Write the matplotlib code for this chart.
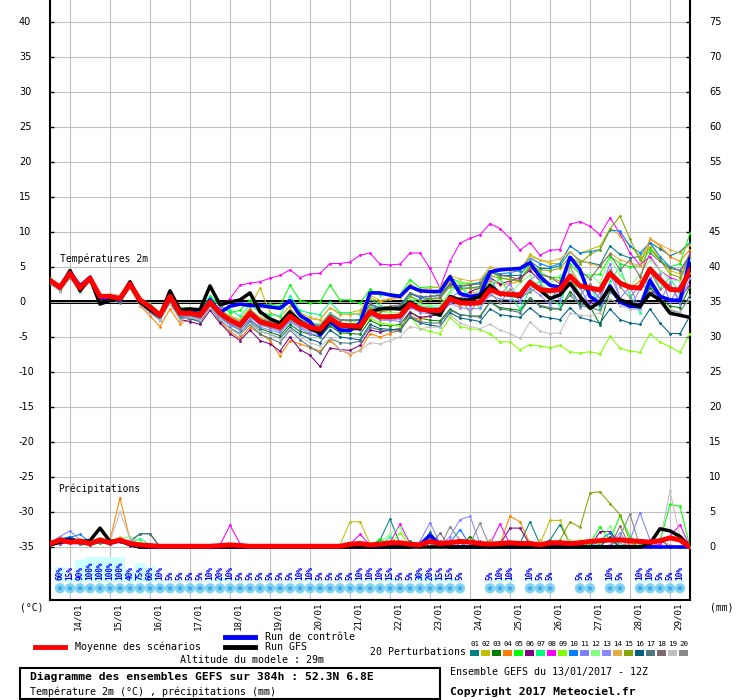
import matplotlib
matplotlib.use("Agg")
import matplotlib.pyplot as plt
import numpy as np
from matplotlib.lines import Line2D
from matplotlib.patches import Rectangle
from matplotlib.transforms import blended_transform_factory

# GEFS 13/01/2017 12Z, one point every 6h (65 steps, 384h)
steps = np.arange(65)
dates = ["14/01", "15/01", "16/01", "17/01", "18/01", "19/01", "20/01", "21/01",
         "22/01", "23/01", "24/01", "25/01", "26/01", "27/01", "28/01", "29/01"]

member_colors = ['#008080', '#c0c000', '#008000', '#ff8000', '#00ff00', '#800080', '#00ff80',
                 '#ff00ff', '#80ff00', '#0080ff', '#8080ff', '#80ff80', '#8888ff', '#e0b040',
                 '#80a800', '#006080', '#507880', '#806870', '#c0c0c0', '#888888']

# ---- temperature 2m (C) ----
t_mean = [3.1, 2.1, 4.1, 2.0, 3.4, 0.8, 0.8, 0.5, 2.6, 0.3,
          -0.7, -1.9, 0.8, -1.6, -1.6, -1.9, 0.0, -1.6, -2.6, -3.3,
          -1.6, -2.8, -3.2, -3.6, -2.0, -3.0, -3.6, -3.9, -2.3, -3.3,
          -3.4, -3.5, -1.4, -2.1, -2.1, -2.0, -0.3, -1.0, -1.2, -1.2,
          0.5, -0.1, -0.2, -0.1, 1.8, 1.2, 1.1, 1.0, 2.8, 1.8,
          1.6, 1.8, 3.7, 2.3, 2.0, 1.7, 4.1, 2.7, 2.1, 2.0,
          4.7, 3.2, 1.8, 1.7, 4.5]
t_ctrl = [3.0, 2.2, 4.3, 2.3, 3.5, 0.5, 0.6, 0.3, 2.8, 0.0,
          -1.0, -2.0, 0.8, -1.4, -1.3, -1.8, 0.3, -1.5, -0.6, -0.3,
          -0.5, -0.5, -0.7, -0.9, 0.2, -1.9, -2.8, -4.7, -2.8, -4.0,
          -4.1, -3.0, 1.3, 1.3, 1.0, 0.8, 2.2, 1.6, 1.5, 1.5,
          3.6, 1.2, 0.8, 1.0, 4.3, 4.6, 4.7, 4.8, 5.6, 3.6,
          2.4, 2.1, 6.4, 4.6, 0.8, -0.2, 2.3, 0.0, -0.6, -0.7,
          3.1, 0.8, 0.3, 0.2, 6.2]
t_gfs = [3.1, 2.0, 4.5, 1.6, 3.4, -0.3, 0.2, 0.5, 2.9, 0.0,
         -1.1, -1.9, 1.6, -1.1, -1.0, -1.1, 2.3, -0.4, 0.0, 0.3,
         1.3, -1.4, -2.4, -3.0, -1.4, -2.8, -3.8, -4.4, -2.6, -3.3,
         -3.6, -3.8, -1.4, -1.0, -0.9, -1.0, 0.0, -0.9, -1.4, -1.9,
         0.8, 0.3, 0.3, 0.8, 2.4, 1.2, 1.0, 0.8, 2.9, 1.7,
         0.5, 1.0, 2.7, 0.8, -0.9, 0.0, 2.1, 0.3, -0.2, -0.6,
         1.2, 0.3, -1.6, -1.9, -2.2]

t_p01 = [2.8, 1.8, 3.7, 1.7, 3.1, 0.6, 0.5, 0.2, 2.4, 0.0, -0.4, -1.6, 1.2, -1.3, -1.2, -1.5, 0.4, -1.1, -2.1, -2.8,
         -1.1, -2.3, -2.8, -3.0, -1.4, -2.5, -3.0, -3.2, -1.6, -2.5, -2.6, -2.5, -0.3, -0.9, -0.8, -0.6, 1.2, 0.6, 0.5, 0.6,
         2.5, 2.0, 2.0, 2.2, 4.3, 3.8, 3.8, 3.8, 5.8, 4.8, 4.8, 5.2, 7.2, 5.8, 5.6, 5.3, 8.0, 6.8, 6.3, 6.5,
         8.5, 7.6, 6.6, 7.2, 8.5]
t_p02 = [3.3, 2.4, 4.3, 2.3, 3.6, 1.0, 1.1, 0.8, 2.9, 0.5, -0.5, -1.7, 1.0, -1.5, -1.3, -1.8, 0.5, -1.2, -2.0, -2.5,
         -0.8, 2.0, -1.5, -2.2, -0.5, -1.5, -2.2, -2.5, -0.8, -1.6, -1.5, -1.2, 1.0, 0.2, 0.5, 0.8, 2.6, 1.5, 1.4, 1.0,
         3.0, 2.6, 2.5, 2.8, 5.0, 4.6, 4.5, 4.4, 6.8, 6.0, 5.5, 5.5, 8.0, 7.0, 7.5, 8.0, 10.5, 9.5, 8.0, 6.5,
         8.5, 6.0, 4.5, 4.0, 7.0]
t_p03 = [3.0, 2.0, 4.2, 2.1, 3.3, 0.7, 0.7, 0.3, 2.5, 0.1, -1.0, -2.2, 0.5, -2.0, -2.0, -2.3, -0.4, -2.2, -3.2, -4.0,
         -2.5, -3.8, -4.3, -4.8, -3.2, -4.2, -4.6, -5.0, -3.4, -4.4, -4.5, -4.6, -2.6, -3.3, -3.4, -3.2, -1.4, -2.3, -2.6, -2.7,
         -1.0, -1.8, -2.0, -2.0, 0.0, -0.8, -1.0, -1.2, 0.6, -0.6, -1.0, -1.0, 1.5, -0.2, -0.6, -3.3, 1.6, 0.2, -0.5, -0.8,
         2.0, 0.5, -0.6, -0.8, 2.2]
t_p04 = [3.2, 2.0, 4.0, 1.8, 3.5, 0.6, 0.5, 0.3, 2.0, -0.5, -2.0, -3.5, -1.0, -3.1, -2.4, -2.6, 0.3, -2.8, -4.2, -5.2,
         -3.6, -4.5, -5.5, -7.7, -5.5, -6.0, -6.5, -7.0, -5.5, -6.8, -7.5, -6.9, -4.5, -5.0, -4.5, -4.0, -2.0, -2.5, -2.0, -1.5,
         0.2, -0.5, 1.5, 1.2, 3.0, 2.5, 2.6, 3.0, 5.0, 4.0, 3.5, 3.0, 5.0, 2.5, 2.0, 1.5, 4.5, 2.5, 2.0, 3.0,
         9.0, 8.0, 6.5, 5.8, 7.5]
t_p05 = [3.4, 2.3, 4.4, 2.4, 3.6, 1.0, 1.0, 0.7, 2.8, 0.5, -0.3, -1.5, 1.3, -0.9, -0.8, -1.4, 0.9, -0.5, -1.5, -1.2,
         0.3, -0.6, -0.3, -0.5, 2.4, 0.2, -0.1, 0.0, 2.4, 0.3, 0.3, -0.2, 1.8, 1.0, 1.2, 1.0, 3.2, 2.0, 2.2, 2.0,
         3.5, 2.8, 2.6, 2.7, 4.5, 3.5, 3.2, 3.0, 5.5, 4.2, 3.5, 3.5, 5.5, 4.0, 3.8, 4.0, 6.5, 5.5, 5.0, 5.2,
         7.5, 6.0, 5.0, 5.5, 9.8]
t_p06 = [2.9, 1.8, 3.8, 1.6, 3.1, 0.5, 0.4, 0.0, 2.3, -0.2, -1.4, -2.6, 0.0, -2.5, -2.8, -3.2, -1.2, -3.0, -4.5, -5.5,
         -4.0, -5.5, -6.0, -7.0, -5.0, -6.8, -7.6, -9.2, -6.6, -6.8, -6.9, -6.2, -4.0, -4.3, -4.0, -3.8, -1.5, -2.2, -2.0, -1.8,
         -0.2, 0.5, 1.5, 2.0, 3.5, 2.6, 3.0, 3.5, 4.5, 3.0, 2.5, 1.5, 2.5, 0.5, 0.0, -0.5, 2.0, 0.5, 0.0, -0.5,
         1.5, 1.0, 0.2, 0.5, 2.5]
t_p07 = [3.3, 2.4, 4.0, 2.2, 3.2, 1.0, 0.9, 0.6, 2.7, 0.4, -0.4, -1.6, 1.0, -1.3, -1.0, -1.5, 0.7, -0.6, -1.2, -2.0,
         -0.4, -1.5, -1.8, -2.0, 0.9, -1.2, -1.6, -1.8, 0.0, -1.5, -1.6, -1.8, 0.5, -0.5, -0.8, -0.9, 1.0, -0.5, -0.7, -0.8,
         1.5, 2.5, 0.5, -0.8, 2.0, 3.5, 1.0, -1.0, 1.8, 3.0, 0.5, -0.5, 4.0, 1.0, 2.5, -1.0, 3.0, 5.0, 1.0, -1.5,
         5.0, 2.0, 3.5, 1.0, 6.0]
t_p08 = [3.0, 2.2, 4.2, 2.1, 3.3, 0.9, 0.7, 0.5, 2.5, 0.2, -0.6, -1.8, 0.7, -1.4, -1.4, -1.6, 0.3, -1.0, 0.5, 2.4,
         2.7, 2.9, 3.4, 3.8, 4.6, 3.5, 4.0, 4.1, 5.5, 5.5, 5.7, 6.7, 7.0, 5.4, 5.3, 5.4, 7.0, 7.0, 4.8, 2.0,
         5.8, 8.4, 9.1, 9.6, 11.2, 10.5, 9.1, 7.4, 8.5, 6.7, 7.4, 7.5, 11.1, 11.5, 10.8, 9.6, 12.0, 9.8, 7.0, 5.3,
         6.5, 4.5, 3.5, 3.0, 7.0]
t_p09 = [3.0, 2.0, 4.0, 1.9, 3.3, 0.7, 0.8, 0.4, 2.6, 0.2, -0.8, -2.0, 0.6, -1.8, -1.7, -2.0, -0.2, -1.8, -2.8, -3.6,
         -1.8, -3.0, -3.5, -3.8, -2.2, -3.3, -3.9, -4.2, -2.8, -3.5, -3.8, -4.0, -2.2, -3.0, -3.2, -3.5, -2.0, -3.8, -4.2, -4.5,
         -2.2, -3.5, -3.8, -4.0, -4.5, -5.7, -5.7, -6.8, -6.1, -6.3, -6.5, -6.2, -7.1, -7.3, -7.1, -7.4, -4.9, -6.6, -7.0, -7.2,
         -4.5, -5.7, -6.4, -7.2, -4.5]
t_p10 = [3.3, 2.3, 4.6, 2.4, 3.7, 1.1, 0.9, 0.6, 2.9, 0.5, -0.5, -1.7, 1.1, -1.2, -1.1, -1.5, 0.6, -1.2, -2.2, -2.8,
         -1.2, -2.4, -2.8, -3.1, -1.4, -2.4, -3.0, -3.3, -1.8, -2.6, -2.7, -2.7, -0.6, -1.0, -1.0, -0.8, 1.3, 0.6, 0.8, 1.0,
         2.6, 2.2, 2.4, 2.8, 4.5, 4.0, 4.2, 4.5, 6.3, 5.5, 5.0, 5.5, 8.0, 7.0, 7.2, 7.5, 10.3, 10.1, 8.0, 7.0,
         8.5, 6.5, 5.0, 4.5, 6.5]
t_p11 = [2.8, 1.7, 3.7, 1.7, 3.0, 0.4, 0.5, 0.1, 2.2, 0.0, -1.2, -2.3, 0.3, -2.0, -2.1, -2.4, -0.6, -2.2, -3.3, -4.0,
         -2.5, -3.6, -4.0, -4.4, -2.8, -3.8, -4.5, -4.8, -3.0, -4.0, -4.0, -4.0, -1.8, -2.3, -2.6, -2.8, -0.8, -1.2, -1.0, -0.8,
         0.6, 1.5, -0.5, 0.5, 3.5, 1.0, 2.6, 0.0, 3.2, 4.0, 2.5, 0.2, 4.8, 2.0, -0.5, 1.3, 5.5, 0.5, 2.2, -1.0,
         3.5, 4.0, 0.0, 2.5, 3.5]
t_p12 = [3.2, 2.3, 4.1, 2.2, 3.4, 0.9, 0.9, 0.6, 2.7, 0.4, -0.6, -1.7, 0.9, -1.4, -1.3, -1.6, 0.2, -1.3, -2.4, -3.0,
         -1.4, -2.4, -2.8, -3.0, -1.2, -2.4, -2.9, -3.2, -1.7, -2.6, -2.8, -2.8, -0.6, -1.4, -1.5, -1.5, 0.4, -0.3, -0.4, -0.5,
         1.5, 2.9, 0.8, 1.8, 2.7, 3.2, 1.0, 2.8, 3.8, 1.8, 2.6, 3.8, 4.7, 2.3, 4.0, 2.7, 6.2, 3.8, 2.2, 4.0,
         6.0, 4.5, 3.2, 3.0, 6.0]
t_p13 = [2.9, 1.9, 3.9, 1.8, 3.2, 0.6, 0.6, 0.2, 2.4, 0.1, -0.9, -2.1, 0.5, -1.9, -1.9, -2.2, -0.3, -2.0, -3.0, -3.8,
         -2.1, -3.3, -3.7, -4.2, -2.6, -3.6, -4.2, -4.5, -2.9, -3.8, -3.9, -4.0, -1.9, -2.6, -2.6, -2.4, -0.7, -1.5, -1.7, -1.8,
         -0.1, -0.8, -1.0, -0.9, 1.0, 0.4, 0.3, 0.2, 2.0, 1.0, -0.4, 1.8, 2.6, -0.8, 1.9, 0.6, 4.0, 0.6, -1.0, 1.9,
         2.6, 0.1, 2.8, -0.4, 3.4]
t_p14 = [3.1, 2.2, 4.3, 2.0, 3.5, 0.7, 0.9, 0.5, 2.8, 0.3, -0.5, -1.6, 1.0, -1.4, -1.3, -1.7, 0.4, -1.2, -2.2, -2.8,
         -1.0, -2.2, -2.5, -2.8, -1.0, -2.0, -2.4, -2.6, -0.8, -1.8, -1.8, -1.6, 0.6, 0.0, 0.4, 0.6, 2.3, 1.8, 2.0, 2.2,
         3.8, 3.3, 3.0, 3.2, 5.0, 4.6, 4.5, 4.8, 6.5, 6.0, 5.8, 6.2, 7.2, 6.0, 5.5, 5.0, 7.0, 6.0, 5.6, 5.2,
         9.1, 8.2, 7.5, 7.0, 8.2]
t_p15 = [3.0, 2.0, 4.0, 2.0, 3.3, 0.8, 0.8, 0.4, 2.5, 0.2, -0.8, -2.0, 0.6, -1.7, -1.7, -2.0, -0.1, -1.7, -2.8, -3.4,
         -1.7, -2.9, -3.3, -3.6, -1.8, -2.8, -3.3, -3.6, -2.0, -3.0, -3.1, -3.0, -0.8, -1.4, -1.2, -1.0, 0.8, 0.2, 0.4, 0.5,
         2.2, 1.8, 2.0, 2.0, 3.8, 3.4, 3.2, 3.0, 5.0, 4.6, 4.5, 4.8, 6.5, 5.5, 6.8, 7.5, 10.4, 12.3, 9.0, 6.0,
         7.8, 6.0, 4.0, 3.5, 6.5]
t_p16 = [2.7, 1.7, 3.6, 1.6, 3.0, 0.5, 0.4, 0.0, 2.2, -0.1, -1.2, -2.5, 0.1, -2.3, -2.4, -2.8, -0.8, -2.6, -3.7, -4.5,
         -2.8, -4.2, -4.6, -5.2, -3.6, -4.6, -5.3, -5.8, -4.0, -5.0, -5.2, -5.4, -3.2, -3.8, -3.9, -4.0, -2.2, -3.0, -3.3, -3.5,
         -1.5, -2.3, -2.5, -2.8, -1.0, -1.8, -2.0, -2.2, -0.8, -2.0, -2.3, -2.5, -0.8, -2.2, -2.6, -3.0, -1.0, -2.5, -3.0, -3.2,
         -1.0, -3.0, -4.5, -4.5, -2.0]
t_p17 = [2.6, 1.6, 3.5, 1.5, 3.0, 0.4, 0.3, -0.1, 2.1, -0.3, -1.3, -2.5, 0.2, -2.2, -2.3, -2.6, -0.6, -2.5, -3.8, -4.7,
         -3.2, -4.6, -5.2, -5.8, -4.0, -5.4, -6.4, -7.3, -5.2, -5.8, -5.9, -5.6, -3.6, -4.0, -4.1, -4.2, -2.0, -2.8, -3.0, -3.0,
         -1.2, -1.8, -2.0, -2.2, 0.0, -1.0, -1.2, -1.5, 0.5, -0.5, -0.8, -1.0, 1.0, -0.5, -0.8, -1.2, 1.5, 0.0, -0.6, -0.8,
         2.5, 0.5, -1.2, -1.5, 1.0]
t_p18 = [3.1, 2.0, 4.2, 2.1, 3.5, 0.8, 0.7, 0.4, 2.7, 0.3, -0.6, -1.8, 1.0, -1.4, -1.5, -1.8, 0.2, -1.4, -2.4, -3.0,
         -1.2, -2.5, -2.9, -3.2, -1.5, -2.6, -3.1, -3.4, -1.8, -2.6, -2.6, -2.6, -0.3, -0.8, -0.6, -0.4, 1.3, 0.8, 0.8, 0.9,
         2.6, 2.3, 2.4, 2.6, 4.2, 3.8, 3.6, 3.2, 4.8, 3.9, 3.6, 2.6, 6.5, 4.5, 3.3, 5.2, 6.8, 4.6, 6.0, 3.6,
         7.0, 5.8, 4.8, 4.5, 6.8]
t_p19 = [2.8, 1.5, 3.6, 1.4, 2.9, 0.9, 1.1, 1.0, 2.3, -0.4, -1.7, -2.6, -0.3, -2.5, -2.2, -2.6, -0.8, -2.4, -3.8, -4.6,
         -3.0, -4.2, -4.6, -5.3, -3.8, -5.0, -5.8, -6.3, -5.2, -6.8, -7.3, -7.0, -5.8, -6.0, -5.5, -5.0, -3.5, -3.8, -3.6, -3.6,
         -1.8, -3.0, -3.5, -3.8, -3.2, -4.0, -4.5, -5.2, -2.8, -4.2, -4.5, -4.4, -1.6, -1.9, -2.0, -1.5, 0.5, -0.5, -1.0, -1.2,
         1.5, 0.0, -1.0, -1.5, 0.5]
t_p20 = [3.0, 2.0, 4.0, 1.9, 3.3, 0.7, 0.6, 0.3, 2.5, 0.2, -0.9, -2.1, 0.6, -1.8, -1.8, -2.1, -0.2, -1.9, -2.9, -3.7,
         -2.0, -3.2, -3.6, -4.0, -2.5, -3.4, -4.0, -4.3, -2.7, -3.6, -3.6, -3.7, -1.6, -2.4, -2.3, -2.2, -0.4, -1.3, -1.4, -1.4,
         0.3, 0.6, -1.5, 0.6, 1.4, -0.2, 1.8, 0.7, 1.4, 2.4, 0.2, 2.4, 3.4, 1.0, 2.6, 0.3, 4.6, 2.2, 0.6, 2.4,
         4.4, 1.8, 2.5, 0.2, 4.2]

# ---- precipitation (mm / 6h) ----
p_mean = [0.5, 1.0, 0.7, 0.8, 0.5, 1.0, 0.6, 1.0, 0.5, 0.3, 0.2, 0.1, 0.1, 0.1, 0.1, 0.1, 0.1, 0.2, 0.3, 0.2,
          0.1, 0.1, 0.1, 0.1, 0.1, 0.1, 0.1, 0.1, 0.1, 0.1, 0.4, 0.5, 0.3, 0.4, 0.6, 0.6, 0.4, 0.3, 0.8, 0.5,
          0.6, 0.8, 0.7, 0.5, 0.4, 0.5, 0.6, 0.5, 0.5, 0.3, 0.6, 0.6, 0.5, 0.6, 0.8, 0.9, 1.0, 1.0, 0.9, 0.8,
          0.7, 0.9, 1.3, 1.0, 0.0]
p_ctrl = [0.5, 0.9, 1.1, 0.7, 0.5, 0.9, 0.6, 0.9, 0.4, 0, 0, 0, 0, 0, 0, 0, 0, 0, 0, 0,
          0, 0, 0, 0, 0, 0, 0, 0, 0, 0, 0, 0, 0, 0, 0, 0, 0, 0.3, 1.7, 0.3,
          0, 0, 0, 0, 0, 0, 0, 0, 0, 0, 0, 0, 0, 0, 0, 0, 0, 0, 0, 0,
          0, 0, 0, 0, 0]
p_gfs = [0.3, 0.7, 1.0, 0.8, 0.9, 2.7, 0.8, 0.9, 0.3, 0, 0, 0, 0, 0, 0, 0, 0, 0, 0, 0,
         0, 0, 0, 0, 0, 0, 0, 0, 0, 0, 0, 0, 0, 0, 0, 0, 0, 0, 0, 0,
         0, 0, 0, 0, 0, 0, 0, 0, 0, 0, 0, 0, 0, 0, 0, 0, 0, 0, 0, 0,
         0.5, 2.6, 2.3, 1.5, 0]

p_p01 = [0.5, 1.0, 1.5, 0.8, 0.6, 1.0, 0.5, 0.8, 0.3, 0, 0, 0, 0, 0, 0, 0, 0, 0, 0, 0,
         0, 0, 0, 0, 0, 0, 0, 0, 0, 0, 0, 0, 0, 1.0, 4.0, 0.5, 0, 0, 2.1, 0.3,
         0, 0, 0, 0, 0, 0, 0, 0.5, 3.6, 0.4, 1.0, 3.2, 0.5, 0, 0, 0, 0, 0, 0, 1.0, 0, 0, 0, 0, 0]
p_p02 = [0.3, 0.8, 1.0, 0.6, 0.4, 0.8, 0.6, 1.2, 0.5, 0, 0, 0, 0, 0, 0, 0, 0, 0, 0, 0,
         0, 0, 0, 0, 0, 0, 0, 0, 0, 0.3, 3.6, 3.6, 0.5, 0, 0, 0, 0, 0, 0, 0,
         0, 0, 0, 0, 0, 0.3, 0, 0, 0, 0.5, 3.8, 3.8, 0.4, 0, 0, 0, 0, 0, 0, 0, 0, 0, 0, 0, 0]
p_p03 = [0.4, 0.6, 0.8, 0.5, 0.3, 0.6, 0.4, 0.9, 0.4, 0.2, 0, 0, 0, 0, 0, 0, 0, 0, 0, 0,
         0, 0, 0, 0, 0, 0, 0, 0, 0, 0, 0, 0, 0, 0, 0, 0, 0.8, 0, 0, 0,
         0, 0, 1.5, 0.3, 0, 0, 0, 0, 0, 0, 0, 0, 0, 0, 0, 0.4, 1.0, 0, 0, 0, 0, 0, 0, 0, 0]
p_p04 = [0.6, 1.4, 0.9, 1.2, 0.5, 1.1, 1.0, 7.0, 1.0, 0, 0, 0, 0, 0, 0, 0, 0, 0, 0, 0,
         0, 0, 0, 0, 0, 0, 0, 0, 0, 0, 0, 0, 0, 0, 0, 0, 0, 0, 0, 0,
         0, 0, 0, 0, 0, 0.5, 4.4, 3.6, 0.5, 0, 0, 0, 0, 0, 0, 0, 0, 0, 0.6, 0, 0, 0, 0, 0, 0]
p_p05 = [0.5, 0.8, 1.2, 0.9, 0.6, 0.7, 0.5, 1.0, 0.8, 0.3, 0, 0, 0, 0, 0, 0, 0, 0, 0, 0,
         0, 0, 0, 0, 0, 0, 0, 0, 0, 0, 0, 0, 0, 1.2, 0.3, 0, 0, 0, 0, 0,
         0, 0, 0, 0, 0, 0, 0, 0, 0, 0, 0, 0, 0, 0, 0.5, 2.9, 1.0, 4.5, 1.5, 0.3, 0, 0.8, 6.1, 5.8, 0]
p_p06 = [0.2, 0.5, 0.6, 0.4, 0.3, 0.8, 0.5, 0.7, 0.2, 0, 0, 0, 0, 0, 0, 0, 0, 0, 0, 0,
         0, 0, 0, 0, 0, 0, 0, 0, 0, 0, 0, 0, 0, 0, 0, 0, 0, 0, 0, 0,
         0, 0, 0, 0, 0, 0.4, 2.7, 2.7, 0.3, 0, 0, 0, 0, 0, 0, 2.2, 2.2, 0.5, 0, 0, 0.5, 0, 0, 0, 0]
p_p07 = [0.4, 0.7, 1.1, 0.8, 0.5, 0.9, 0.7, 1.0, 0.6, 1.2, 0.3, 0, 0, 0, 0, 0, 0, 0, 0, 0,
         0, 0, 0, 0, 0, 0, 0, 0, 0, 0, 0, 0, 0, 0, 1.5, 0.3, 0, 0, 0, 0,
         0, 0, 0, 0, 1.0, 0, 0, 0, 0, 0, 0, 0, 0, 0, 1.0, 0.2, 0, 0, 0, 0, 0, 0, 0, 0, 0]
p_p08 = [0.3, 0.6, 0.9, 0.6, 0.4, 0.7, 0.5, 0.8, 0.3, 0, 0, 0, 0, 0, 0, 0, 0, 0.3, 3.1, 0.5,
         0.2, 0, 0, 0, 0, 0, 0, 0, 0, 0, 0.4, 1.8, 0.3, 0, 0.6, 3.3, 0.5, 0, 0, 0,
         1.0, 0.2, 0, 0, 0.4, 3.3, 0.4, 0, 0, 0, 0, 0, 0, 0, 0, 0, 0, 0, 0, 0, 0, 0.4, 1.5, 3.2, 0]
p_p09 = [0.5, 0.9, 1.3, 0.7, 0.6, 1.2, 0.8, 1.3, 0.5, 0.2, 0, 0, 0, 0, 0, 0, 0, 0, 0, 0,
         0, 0, 0, 0, 0, 0, 0, 0, 0, 0, 0.5, 0, 0, 0, 0.4, 2.0, 0.3, 0, 0, 0,
         0, 0, 0, 0, 0, 0, 0, 0, 0, 0, 0, 0, 0, 1.0, 0, 0, 0, 0, 0, 0, 0, 0, 0, 0, 0]
p_p10 = [0.6, 1.2, 1.4, 1.8, 0.7, 1.0, 0.6, 0.9, 0.4, 0, 0, 0, 0, 0, 0, 0, 0, 0, 0, 0,
         0, 0, 0, 0, 0, 0, 0, 0, 0, 0, 0, 0, 0, 0, 0, 0, 0, 0.4, 1.5, 0.2,
         0.6, 2.5, 0.3, 0, 0, 0, 0, 0, 0, 0, 0, 0, 0, 0, 0, 1.0, 2.0, 0.3, 0, 0, 0, 0, 0, 0, 0]
p_p11 = [0.5, 1.5, 2.3, 1.0, 0.6, 1.1, 0.5, 1.0, 0.3, 0, 0, 0, 0, 0, 0, 0, 0, 0, 0, 0,
         0, 0, 0, 0, 0, 0, 0, 0, 0, 0, 0, 0, 0, 0, 0, 0, 0, 0.8, 3.5, 0.5,
         0, 0, 0.8, 0, 0, 0, 0, 0, 0, 0, 0, 0, 0, 0, 0, 0, 0, 0, 1.0, 4.9, 1.0, 0, 0, 0, 0]
p_p12 = [0.4, 0.8, 1.0, 0.7, 0.5, 0.8, 0.9, 1.2, 1.5, 0.8, 0, 0, 0, 0, 0, 0, 0, 0, 0, 0,
         0, 0, 0, 0, 0, 0, 0, 0, 0, 0, 0, 0, 0, 0.5, 1.9, 2.8, 0.2, 0, 0, 0,
         0, 0, 0, 0, 0, 0, 0, 0, 0, 0, 0, 0.3, 1.0, 0, 0, 0.6, 3.0, 0.4, 0, 0, 0, 0, 0, 0, 0]
p_p13 = [0.3, 0.7, 1.2, 0.9, 0.5, 0.9, 0.6, 1.1, 0.4, 0, 0, 0, 0, 0, 0, 0, 0, 0, 0, 0,
         0, 0, 0, 0, 0, 0, 0, 0, 0, 0, 0, 0, 0, 0, 0, 0, 0, 0, 0, 0,
         1.5, 3.9, 4.4, 0.5, 0, 0, 0, 0, 0, 0, 0, 0, 0, 0, 0, 0, 0.3, 2.0, 0.2, 0, 0, 0, 0, 0, 0]
p_p14 = [0.6, 1.1, 1.0, 0.8, 0.7, 1.3, 0.8, 1.4, 0.6, 0.2, 0, 0, 0, 0, 0, 0, 0, 0, 0, 0,
         0, 0, 0, 0, 0, 0, 0, 0, 0, 0, 0, 0, 0, 0, 0, 0, 0, 0, 0, 0,
         0, 0, 0, 0, 1.0, 0, 0, 0, 0, 1.0, 0, 0, 0, 0, 0, 0, 0, 0, 0, 0, 0, 1.0, 0.3, 0, 0]
p_p15 = [0.4, 0.9, 1.1, 0.6, 0.5, 1.0, 0.7, 1.0, 0.5, 0, 0, 0, 0, 0, 0, 0, 0, 0, 0, 0,
         0, 0, 0, 0, 0, 0, 0, 0, 0, 0, 0, 0, 0, 0, 0, 0, 0, 0, 0, 0,
         0, 0, 0, 0, 0, 0, 0, 0, 0, 0, 0.2, 1.0, 3.6, 2.8, 7.7, 7.9, 6.2, 4.6, 0.8, 0, 0, 0, 0, 0, 0]
p_p16 = [0.5, 0.8, 1.0, 0.7, 0.4, 0.9, 0.6, 0.8, 0.8, 1.9, 1.9, 0, 0, 0, 0, 0, 0, 0, 0, 0,
         0, 0, 0, 0, 0, 0, 0, 0, 0, 0, 0, 0, 0, 0, 0, 0, 0, 0, 0, 0.8,
         0, 0, 0, 0, 0, 0, 0, 0, 0, 0, 0, 0, 0, 0, 0, 0, 1.5, 0, 0, 0, 0, 0, 0, 0, 0]
p_p17 = [0.4, 0.7, 0.9, 0.6, 0.5, 1.0, 0.7, 0.9, 0.8, 1.9, 1.9, 0, 0, 0, 0, 0, 0, 0, 0, 0,
         0, 0, 0, 0, 0, 0, 0, 0, 0, 0, 0, 0, 0, 0, 0, 0, 0, 0, 0, 0,
         0, 0, 0, 0.8, 0, 0, 0, 0, 0, 0, 0, 0, 0, 0, 0, 0, 0, 0, 0, 0, 0, 1.0, 0, 0, 0]
p_p18 = [0.3, 0.6, 0.8, 0.5, 0.3, 0.7, 0.5, 0.8, 0.4, 0, 0, 0, 0, 0, 0, 0, 0, 0, 0, 0,
         0, 0, 0, 0, 0, 0, 0, 0, 0, 0, 0, 0, 0, 0, 0, 0, 0, 0, 0, 2.0,
         0, 0, 0, 0, 0, 0, 0, 0, 0, 0, 0, 0, 0, 0, 0, 0, 0, 3.0, 0, 0, 0, 0, 0, 0, 0]
p_p19 = [0.5, 0.9, 1.0, 0.8, 0.6, 1.0, 0.8, 5.0, 1.2, 0.3, 0, 0, 0, 0, 0, 0, 0, 0, 0, 0,
         0, 0, 0, 0, 0, 0, 0, 0, 0, 0, 0, 0, 0, 0, 0, 0, 0.3, 0, 0, 0,
         0, 0, 0, 0, 0, 0, 0, 0, 0, 0, 0, 0, 0, 0, 0, 0, 0, 0, 0, 0, 0, 1.0, 8.0, 1.5, 0]
p_p20 = [0.4, 0.8, 1.0, 0.7, 0.5, 0.9, 0.6, 1.0, 0.6, 0.4, 0, 0, 0, 0, 0, 0, 0, 0, 0, 0,
         0, 0, 0, 0, 0, 0, 0, 0, 0, 0, 0, 0, 0, 0, 0, 0, 0, 0, 0, 0,
         2.9, 1.0, 0.5, 3.4, 0, 0, 0, 0, 0, 0, 0, 0, 0, 0, 0, 0, 0, 1.5, 4.7, 0, 0, 0, 0, 0, 0]

# snow probability (%) per step
snow_pct = [0, 60, 15, 90, 100, 100, 100, 100, 40, 75, 60, 10, 5, 5, 5, 5, 10, 20, 10, 5,
            5, 5, 5, 5, 5, 10, 10, 5, 5, 5, 5, 10, 10, 10, 15, 5, 5, 30, 20, 15,
            15, 5, 0, 0, 5, 10, 10, 0, 10, 5, 5, 0, 0, 5, 5, 0, 10, 5, 0, 10,
            10, 5, 5, 10, 0]

t_members = [t_p01, t_p02, t_p03, t_p04, t_p05, t_p06, t_p07, t_p08, t_p09, t_p10,
             t_p11, t_p12, t_p13, t_p14, t_p15, t_p16, t_p17, t_p18, t_p19, t_p20]
p_members = [p_p01, p_p02, p_p03, p_p04, p_p05, p_p06, p_p07, p_p08, p_p09, p_p10,
             p_p11, p_p12, p_p13, p_p14, p_p15, p_p16, p_p17, p_p18, p_p19, p_p20]

W, H = 740, 700
MONO = 'DejaVu Sans Mono'


def fx(x):
    return x / W


def fy(y):
    return 1 - y / H


fig = plt.figure(figsize=(W / 100, H / 100), dpi=100)
fig.patch.set_facecolor('white')
ax = fig.add_axes([fx(50), fy(600), 640 / W, 600 / H])
ax.set_xlim(0, 64)
ax.set_ylim((302 - 600) / 7, 302 / 7)  # 7 px per degree, 0C at y=302

# grid
for t in range(-35, 45, 5):
    ax.axhline(t, color='#c0c0c0', lw=0.8, zorder=1)
for k in range(len(dates)):
    ax.axvline(2 + 4 * k, color='#c0c0c0', lw=0.8, zorder=1)
ax.axhline(0, color='black', lw=2.9, zorder=1.5)
ax.axhline(0, color='#b0b0b0', lw=0.7, zorder=1.6)

# snow probability row
snow = np.array(snow_pct)
has = snow > 0
ax.bar(steps[has], snow[has] / 28, bottom=-40, width=1.0, color='#ccffff', lw=0, zorder=1.2)
ax.scatter(steps[has], np.full(has.sum(), -40.9), s=55, color='#80d4f4', edgecolors='none', zorder=2)
ax.scatter(steps[has], np.full(has.sum(), -40.9), s=22, marker='*', color='#3c9be0', edgecolors='none', zorder=2.1)
for i in steps[has]:
    ax.text(i, -39.7, f"{snow_pct[i]}%", rotation=90, ha='center', va='bottom', color='#0000ff',
            fontsize=5.6, family=MONO, fontweight='bold', zorder=3)

# ensemble members: temperature and precipitation (precip shown as p - 35)
for t, p, col in zip(t_members, p_members, member_colors):
    ax.plot(steps, t, color=col, lw=0.75, marker='o', ms=2, mew=0, zorder=3)
    ax.plot(steps, np.array(p) - 35, color=col, lw=0.75, marker='o', ms=2, mew=0, zorder=3)

ax.plot(steps, t_ctrl, color='#0000ff', lw=2.6, zorder=4)
ax.plot(steps, np.array(p_ctrl) - 35, color='#0000ff', lw=2.6, zorder=4)
ax.plot(steps, t_gfs, color='black', lw=2.5, zorder=4.5)
ax.plot(steps, np.array(p_gfs) - 35, color='black', lw=2.5, zorder=4.5)
ax.plot(steps, t_mean, color='#ff0000', lw=3.6, zorder=5)
ax.plot(steps, np.array(p_mean) - 35, color='#ff0000', lw=3.6, zorder=5)

# axes frame
ax.spines['top'].set_visible(False)
for side in ['left', 'right', 'bottom']:
    ax.spines[side].set_linewidth(1.5)
ax.set_xticks([])
ax.set_yticks(range(-35, 45, 5))
ax.tick_params(axis='y', direction='in', length=3, width=1, left=True, right=True, labelleft=False)

tr = blended_transform_factory(fig.transFigure, ax.transData)
for t in range(-35, 45, 5):
    ax.text(fx(19), t, str(t), transform=tr, ha='left', va='center', fontsize=7, family='DejaVu Sans')
for p in range(0, 80, 5):
    ax.text(fx(709), p - 35, str(p), transform=tr, ha='left', va='center', fontsize=7, family='DejaVu Sans')

ax.text(fx(60), (302 - 259) / 7, "Températures 2m", transform=tr, ha='left', va='center',
        fontsize=7, family=MONO, zorder=6)
ax.text(fx(58), (302 - 489) / 7, "Précipitations", transform=tr, ha='left', va='center',
        fontsize=7, family=MONO, zorder=6)

# date labels and units
for k, d in enumerate(dates):
    fig.text(fx(78 + 40 * k), fy(603), d, rotation=90, ha='center', va='top', fontsize=6.6, family=MONO)
fig.text(fx(20), fy(607), "(°C)", ha='left', va='center', fontsize=7, family=MONO)
fig.text(fx(710), fy(607), "(mm)", ha='left', va='center', fontsize=7, family=MONO)

# legend
fig.add_artist(Line2D([fx(35), fx(65)], [fy(647), fy(647)], color='#ff0000', lw=3.5))
fig.text(fx(75), fy(647), "Moyenne des scénarios", ha='left', va='center', fontsize=7.2, family=MONO)
fig.add_artist(Line2D([fx(225), fx(255)], [fy(637), fy(637)], color='#0000ff', lw=3.5))
fig.text(fx(265), fy(637), "Run de contrôle", ha='left', va='center', fontsize=7.2, family=MONO)
fig.add_artist(Line2D([fx(225), fx(255)], [fy(647), fy(647)], color='black', lw=3.5))
fig.text(fx(265), fy(647), "Run GFS", ha='left', va='center', fontsize=7.2, family=MONO)
fig.text(fx(180), fy(660), "Altitude du modele : 29m", ha='left', va='center', fontsize=7.2, family=MONO)

fig.add_artist(Rectangle((fx(20), fy(699)), 420 / W, 31 / H, fill=False, lw=1.5, ec='black',
                         transform=fig.transFigure))
fig.text(fx(30), fy(677), "Diagramme des ensembles GEFS sur 384h : 52.3N 6.8E", ha='left', va='center',
         fontsize=8.2, family=MONO, fontweight='bold')
fig.text(fx(30), fy(692), "Température 2m (°C) , précipitations (mm)", ha='left', va='center',
         fontsize=7.2, family=MONO)

fig.text(fx(370), fy(652), "20 Perturbations", ha='left', va='center', fontsize=7.1, family=MONO)
for k, col in enumerate(member_colors):
    x0 = 470 + 11.0 * k
    fig.add_artist(Rectangle((fx(x0), fy(656)), 9.3 / W, 6.5 / H, color=col, lw=0,
                             transform=fig.transFigure))
    fig.text(fx(x0 + 4.7), fy(644), f"{k + 1:02d}", ha='center', va='center', fontsize=5.4, family=MONO)

fig.text(fx(450), fy(672), "Ensemble GEFS du 13/01/2017 - 12Z", ha='left', va='center', fontsize=7.2, family=MONO)
fig.text(fx(450), fy(692), "Copyright 2017 Meteociel.fr", ha='left', va='center', fontsize=8.2,
         family=MONO, fontweight='bold')

fig.savefig("out.png", dpi=100, facecolor='white')
